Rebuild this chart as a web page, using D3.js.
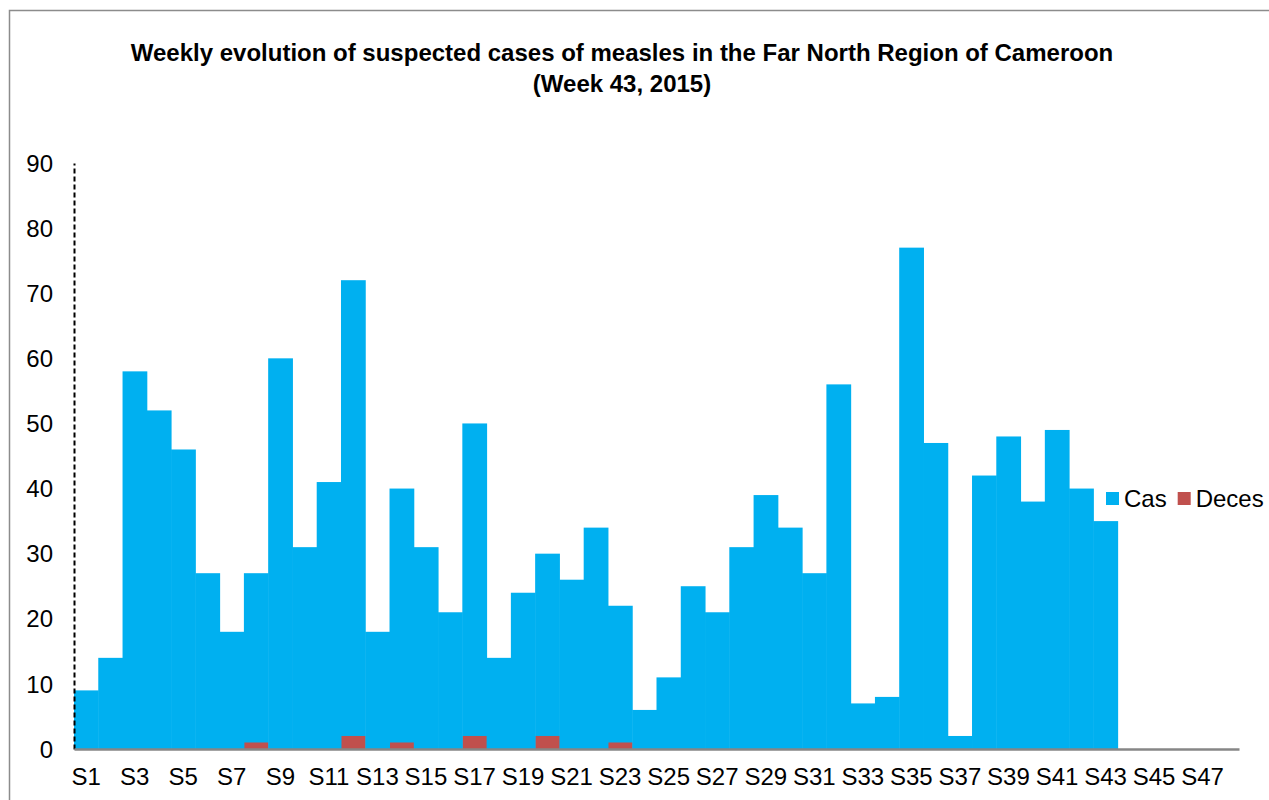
<!DOCTYPE html>
<html>
<head>
<meta charset="utf-8">
<script src="https://cdn.jsdelivr.net/npm/d3@7"></script>
<style>
  html, body { margin: 0; padding: 0; background: #fff; }
  svg { display: block; font-family: "Liberation Sans", Arial, sans-serif; }
</style>
</head>
<body>
<svg id="chart" width="1269" height="800"></svg>
<script>
// Weekly suspected measles cases and deaths, weeks S1..S48
const weeks = d3.range(1, 49).map(i => "S" + i);
const cases = [9, 14, 58, 52, 46, 27, 18, 27, 60, 31, 41, 72, 18, 40, 31, 21, 50, 14, 24, 30,
               26, 34, 22, 6, 11, 25, 21, 31, 39, 34, 27, 56, 7, 8, 77, 47, 2, 42, 48, 38,
               49, 40, 35, null, null, null, null, null];
const deaths = [null, null, null, null, null, null, null, 1, null, null, null, 2, null, 1, null, null, 2, null, null, 2,
                null, null, 1, null, null, null, null, null, null, null, null, null, null, null, null, null, null, null, null, null,
                null, null, null, null, null, null, null, null];
const yTicks = [0, 10, 20, 30, 40, 50, 60, 70, 80, 90];
const titleLines = [
  "Weekly evolution of suspected cases of measles in the Far North Region of Cameroon",
  "(Week 43, 2015)"
];
const legendItems = [
  { name: "Cas", color: "#00B0F0" },
  { name: "Deces", color: "#C0504D" }
];

const svg = d3.select("#chart");
const plotLeft = 74, plotRight = 1239, plotTop = 163, plotBottom = 749;
const fontSize = 24;

// chart frame
svg.append("rect")
  .attr("x", 9.5).attr("y", 10.5)
  .attr("width", 1300).attr("height", 900)
  .attr("fill", "none").attr("stroke", "#8c8c8c").attr("stroke-width", 1.5);

const x = d3.scaleBand().domain(weeks).range([plotLeft, plotRight]).padding(0);
const y = d3.scaleLinear().domain([0, 90]).range([plotBottom, plotTop]);

// title
svg.append("g").selectAll("text").data(titleLines).join("text")
  .attr("x", 622).attr("y", (d, i) => 61 + i * 31)
  .attr("text-anchor", "middle")
  .attr("font-size", fontSize).attr("font-weight", "bold")
  .attr("fill", "#000")
  .text(d => d);

// cases bars
svg.append("g").selectAll("rect").data(weeks.map((w, i) => ({ w, v: cases[i] })).filter(d => d.v != null))
  .join("rect")
  .attr("x", d => x(d.w))
  .attr("width", x.bandwidth() + 0.5)
  .attr("y", d => y(d.v))
  .attr("height", d => y(0) - y(d.v))
  .attr("fill", "#00B0F0");

// deaths bars
svg.append("g").selectAll("rect").data(weeks.map((w, i) => ({ w, v: deaths[i] })).filter(d => d.v != null))
  .join("rect")
  .attr("x", d => x(d.w) + 0.5)
  .attr("width", x.bandwidth() - 0.5)
  .attr("y", d => y(d.v))
  .attr("height", d => y(0) - y(d.v))
  .attr("fill", "#C0504D");

// y axis: dashed line with labels
const yAxis = svg.append("g").attr("transform", `translate(${plotLeft},0)`)
  .call(d3.axisLeft(y).tickValues(yTicks).tickSize(0).tickPadding(21));
yAxis.select(".domain").attr("stroke", "#000").attr("stroke-width", 2).attr("stroke-dasharray", "5,3");
yAxis.selectAll("text").attr("font-size", fontSize).attr("fill", "#000")
  .attr("font-family", "Liberation Sans, Arial, sans-serif")
  .attr("dy", "0.34em");

// x axis
const xAxis = svg.append("g").attr("transform", `translate(0,${plotBottom})`)
  .call(d3.axisBottom(x).tickValues(weeks.filter((d, i) => i % 2 === 0)).tickSize(0));
xAxis.select(".domain").attr("stroke", "#868686").attr("stroke-width", 2.5);
xAxis.selectAll("text").attr("font-size", fontSize).attr("fill", "#000")
  .attr("font-family", "Liberation Sans, Arial, sans-serif")
  .attr("y", 36).attr("dy", 0);

// legend
const legend = svg.append("g").attr("transform", "translate(1106,498)");
let lx = 0;
legendItems.forEach(item => {
  const g = legend.append("g").attr("transform", `translate(${lx},0)`);
  g.append("rect").attr("x", 0).attr("y", -6).attr("width", 13).attr("height", 13).attr("fill", item.color);
  const t = g.append("text").attr("x", 18).attr("y", 8.5).attr("font-size", fontSize).attr("fill", "#000").text(item.name);
  lx += 18 + t.node().getComputedTextLength() + 11;
});
</script>
</body>
</html>
